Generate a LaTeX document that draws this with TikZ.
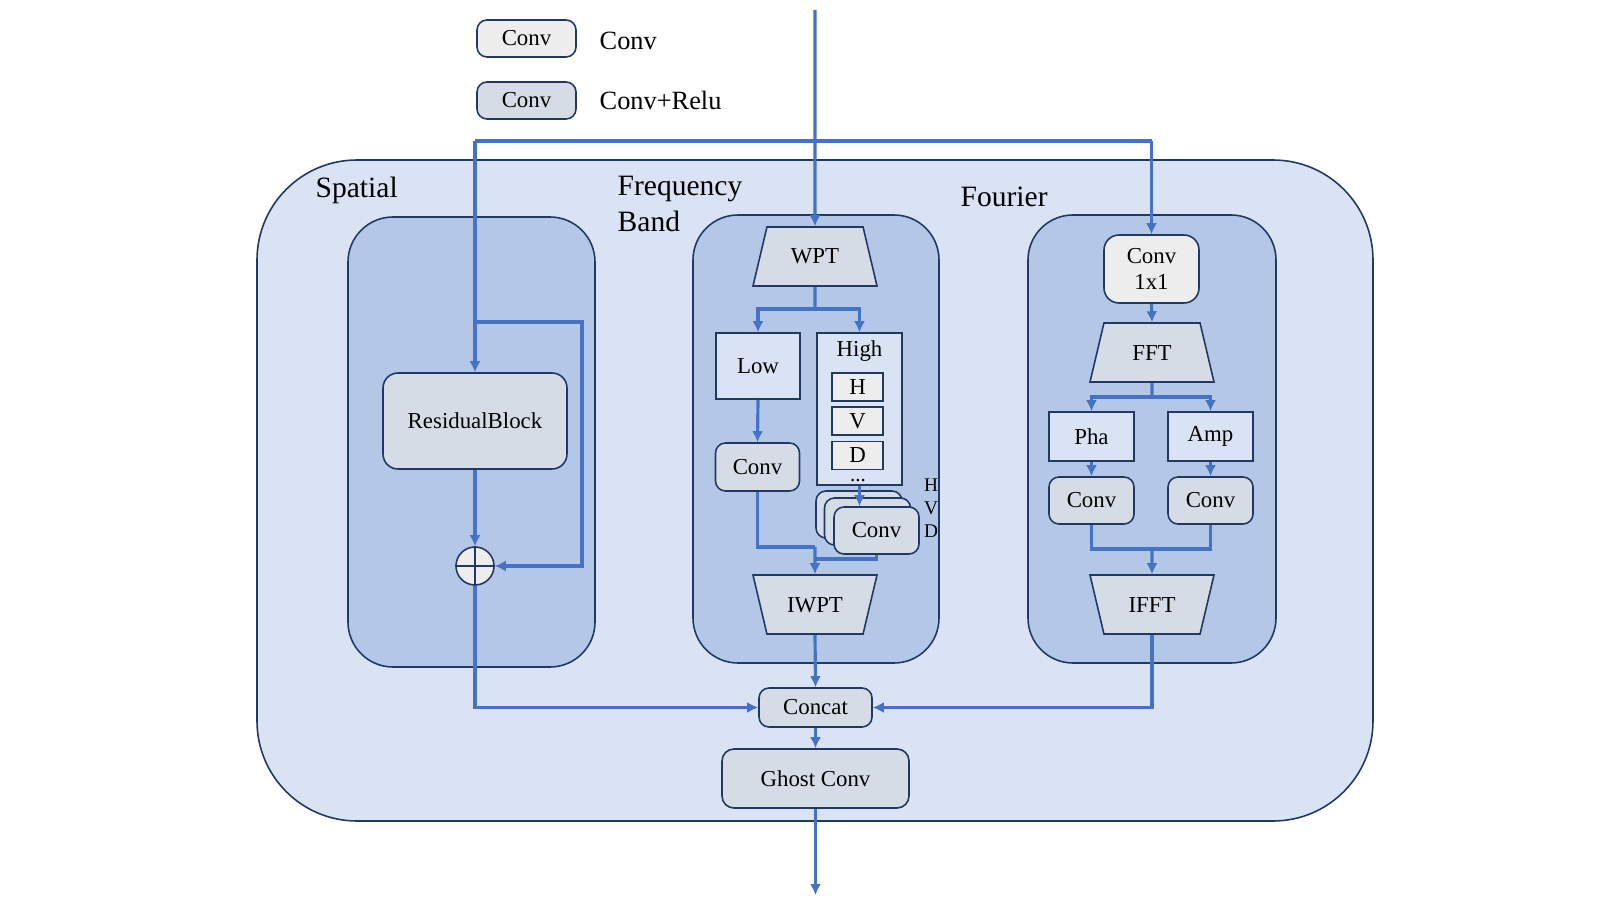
\documentclass[tikz,border=0pt]{standalone}
\usepackage{fontspec}
\setmainfont{Liberation Serif}
\usetikzlibrary{
    arrows.meta,
    shapes.geometric,
%    positioning,
}
\definecolor{outerfill}{HTML}{DAE3F3}
\definecolor{innerfill}{HTML}{B4C7E7}
\definecolor{navy}{HTML}{1F3864}
\definecolor{convfill}{HTML}{D6DCE5}
\definecolor{grayfill}{HTML}{EDEDED}
\definecolor{flowblue}{HTML}{4472C4}

\begin{document}
\begin{tikzpicture}
        [
            x = 0.1mm, y = -0.1mm,
            every node/.style = {font=\fontsize{6.5}{7.5}\selectfont, inner sep = 0pt},
            outerbox/.style = {draw=navy, line width=0.45pt, fill=outerfill, rounded corners=10mm},
            innerbox/.style = {draw=navy, line width=0.45pt, fill=innerfill, rounded corners=4.5mm},
            convbox/.style = {draw=navy, line width=0.45pt, fill=convfill, rectangle, rounded corners=1mm, minimum width = 8.4mm, minimum height = 4.7mm},
            plainbox/.style = {draw=navy, line width=0.45pt, fill=outerfill, rectangle, minimum width = 8.5mm, minimum height = 4.9mm},
            graybox/.style = {draw=navy, line width=0.45pt, fill=grayfill, rectangle, minimum width = 5.1mm, minimum height = 2.8mm},
            trans/.style = {draw=navy, line width=0.45pt, fill=convfill, trapezium, trapezium stretches body, trapezium left angle=76.7, trapezium right angle=76.7, text height = 3.7mm, text depth = 2.2mm, inner ysep = 0pt, minimum width = 12.4mm},
            itrans/.style = {trans, trapezium left angle=103.3, trapezium right angle=103.3},
            sectlabel/.style = {font=\fontsize{8.4}{10}\selectfont, anchor=west, align=left},
            legendtext/.style = {font=\fontsize{7.5}{9}\selectfont, anchor=west},
            flow/.style = {draw=flowblue, line width=0.9pt},
            arr/.style = {flow, -{Latex[length=1.1mm, width=1.1mm]}}
        ]
        \useasboundingbox (0,0) rectangle (1600,900);
        \draw[outerbox] (257,160) rectangle (1373,821);
        \draw[innerbox] (348,217) rectangle (595,667);
        \draw[innerbox] (693,215) rectangle (939,663);
        \draw[innerbox] (1028,215) rectangle (1276,663);
        \node[sectlabel] (spatiallbl) at (315,190) {Spatial};
        \node[sectlabel] (freqlbl) at (617,204) {Frequency\\Band};
        \node[sectlabel] (fourierlbl) at (960,197) {Fourier};

        \node[convbox, fill=grayfill, minimum width = 9.9mm, minimum height = 3.7mm] (lg1) at (526.5,38.5) {Conv};
        \node[convbox, minimum width = 9.9mm, minimum height = 3.7mm] (lg2) at (526.5,100.5) {Conv};
        \node[legendtext] (lg1txt) at (599,41) {Conv};
        \node[legendtext] (lg2txt) at (599,100) {Conv+Relu};

        \node[convbox, rounded corners=1.5mm, minimum width = 18.4mm, minimum height = 9.6mm] (res) at (475,421) {ResidualBlock};
        \node[draw=navy, line width=0.45pt, fill=grayfill, circle, minimum size = 3.8mm] (plus) at (475,566) {};
        \draw[navy, line width=0.45pt] (plus.north) -- (plus.south) (plus.west) -- (plus.east);

        \node[trans] (wpt) at (815,256.5) {WPT};
        \node[plainbox, minimum height = 6.6mm, minimum width = 8.4mm] (low) at (758,366) {Low};
        \node[plainbox, minimum height = 15.2mm] (high) at (859.5,409) {};
        \node (hightxt) at (859.5,351) {High};
        \node[graybox] (hh) at (857.5,387) {H};
        \node[graybox] (hv) at (857.5,421) {V};
        \node[graybox] (hd) at (857.5,455.5) {D};
        \node[text depth = 0pt, font=\fontsize{6}{7}\selectfont] (hdots) at (858,480) {...};
        \node[convbox, minimum height = 4.8mm] (lconv) at (757.5,467) {Conv};
        \node[convbox, minimum width = 8.6mm] (hconv3) at (859,514.5) {};
        \node[convbox, minimum width = 8.6mm] (hconv2) at (867.5,521.5) {};
        \node[convbox, minimum width = 8.5mm] (hconv) at (876.5,530.5) {Conv};
        \node[font=\fontsize{5.5}{6.5}\selectfont] (hlbl) at (931,485) {H};
        \node[font=\fontsize{5.5}{6.5}\selectfont] (vlbl) at (931,508) {V};
        \node[font=\fontsize{5.5}{6.5}\selectfont] (dlbl) at (931,531) {D};
        \node[itrans] (iwpt) at (815,604.5) {IWPT};

        \node[convbox, minimum width = 11.3mm, minimum height = 3.9mm] (concat) at (815.5,707.5) {Concat};
        \node[convbox, rounded corners=1.2mm, minimum width = 18.7mm, minimum height = 5.9mm] (ghost) at (815.5,778.5) {Ghost Conv};

        \node[convbox, fill=grayfill, rounded corners=1.5mm, minimum width = 9.5mm, minimum height = 6.8mm, align=center] (c11) at (1151.5,269) {Conv\\1x1};
        \node[trans] (fft) at (1152,352.5) {FFT};
        \node[plainbox] (pha) at (1091.5,436.5) {Pha};
        \node[plainbox] (amp) at (1210.5,436.5) {Amp};
        \node[convbox, minimum width = 8.5mm] (pconv) at (1091.5,500.5) {Conv};
        \node[convbox, minimum width = 8.5mm] (aconv) at (1210.5,500.5) {Conv};
        \node[itrans] (ifft) at (1152,604.5) {IFFT};

        \coordinate (in) at (815,10);
        \coordinate (out) at (815.5,895);
        \coordinate (tl) at (475,141);
        \coordinate (tr) at (1151.5,141);
        \coordinate (sk) at (475,322);
        \coordinate (skr) at (582,322);
        \coordinate (wsplit) at (815,309);
        \coordinate (imerge) at (815,547);
        \coordinate (imerge2) at (815,559);
        \coordinate (fsplit) at (1152,397);
        \coordinate (fmerge) at (1152,549);

        \draw[arr] (in) -- (wpt.north);
        \draw[flow] (tl) -- (tr);
        \draw[arr] (tl) -- (res.north);
        \draw[arr] (tr) -- (c11.north);
        \draw[arr] (sk) -- (skr) |- (plus.east);
        \draw[arr] (res.south) -- (plus.north);
        \draw[arr] (plus.south) |- (concat.west);

        \draw[flow] (wpt.south) -- (wsplit);
        \draw[arr] (wsplit) -| (low.north);
        \draw[arr] (wsplit) -| (high.north);
        \draw[arr] (low.south) -- (lconv.north);
        \draw[arr] (high.south) -- (high.south |- hconv.north);
        \draw[flow] (lconv.south) |- (imerge);
        \draw[flow] (hconv.south) |- (imerge2);
        \draw[arr] (imerge) -- (iwpt.north);
        \draw[arr] (iwpt.south) -- (concat.north);

        \draw[arr] (c11.south) -- (fft.north);
        \draw[flow] (fft.south) -- (fsplit);
        \draw[arr] (fsplit) -| (pha.north);
        \draw[arr] (fsplit) -| (amp.north);
        \draw[arr] (pha.south) -- (pconv.north);
        \draw[arr] (amp.south) -- (aconv.north);
        \draw[flow] (pconv.south) |- (fmerge);
        \draw[flow] (aconv.south) |- (fmerge);
        \draw[arr] (fmerge) -- (ifft.north);
        \draw[arr] (ifft.south) |- (concat.east);

        \draw[arr] (concat.south) -- (ghost.north);
        \draw[arr] (ghost.south) -- (out);
    \end{tikzpicture}
\end{document}
